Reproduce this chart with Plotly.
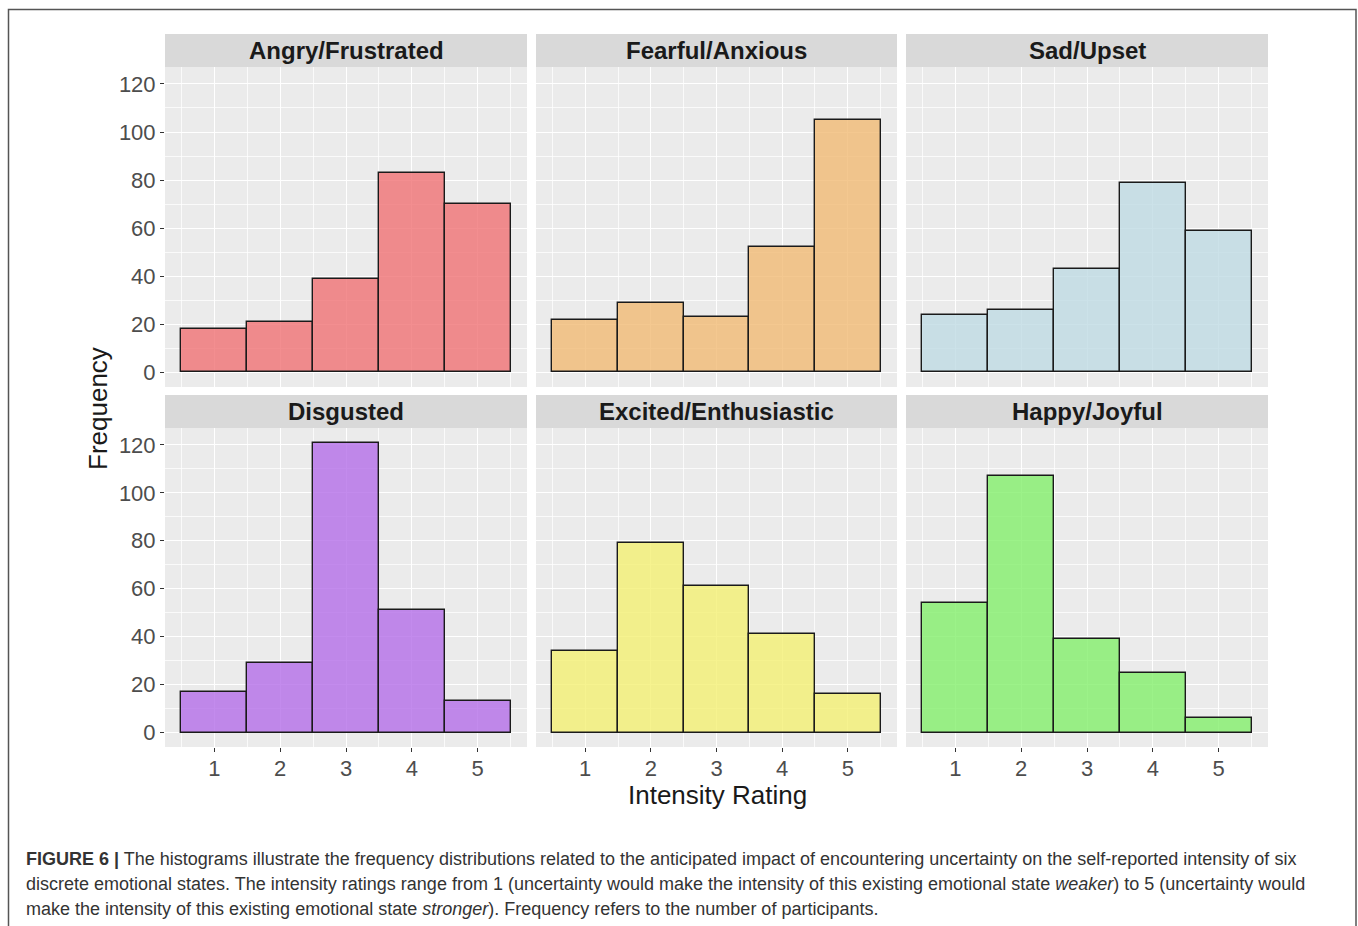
import plotly.graph_objects as go

W, H = 1358, 926

ratings = [1, 2, 3, 4, 5]
panels = ["Angry/Frustrated", "Fearful/Anxious", "Sad/Upset",
          "Disgusted", "Excited/Enthusiastic", "Happy/Joyful"]
angry = [18, 21, 39, 83, 70]
fearful = [22, 29, 23, 52, 105]
sad = [24, 26, 43, 79, 59]
disgusted = [17, 29, 121, 51, 13]
excited = [34, 79, 61, 41, 16]
happy = [54, 107, 39, 25, 6]
series = [angry, fearful, sad, disgusted, excited, happy]
fills = ["rgba(240,114,116,0.8)", "rgba(241,186,116,0.8)", "rgba(191,219,228,0.8)",
         "rgba(180,110,233,0.8)", "rgba(244,240,115,0.8)", "rgba(131,239,108,0.8)"]
y_ticks = [0, 20, 40, 60, 80, 100, 120]

# pixel layout (reference coordinates)
col_x = [(165, 527), (536, 897), (906, 1268)]
row_plot = [(67, 387), (428, 747)]
row_strip = [(34, 67), (395, 428)]

def px(x):
    return x / W

def py(y):
    return 1 - y / H

FONT = "Liberation Sans, Arial, sans-serif"
fig = go.Figure()
shapes = []
annotations = []

for i, (name, vals, fc) in enumerate(zip(panels, series, fills)):
    r, c = divmod(i, 3)
    k = i + 1
    xa = "x" if k == 1 else f"x{k}"
    ya = "y" if k == 1 else f"y{k}"
    fig.add_trace(go.Bar(
        x=ratings, y=vals, width=1, xaxis=xa, yaxis=ya,
        marker=dict(color=fc, line=dict(color="#1a1a1a", width=1.4)),
        showlegend=False, hoverinfo="x+y"))
    xk = "xaxis" if k == 1 else f"xaxis{k}"
    yk = "yaxis" if k == 1 else f"yaxis{k}"
    x0, x1 = col_x[c]
    t0, t1 = row_plot[r]
    bottom = (r == 1)
    left = (c == 0)
    fig.layout[xk] = dict(
        domain=[px(x0), px(x1)], anchor=ya, range=[0.25, 5.75],
        tickvals=ratings, showticklabels=bottom,
        ticks="outside" if bottom else "", ticklen=4, tickwidth=1, tickcolor="#333333",
        ticklabelstandoff=-2,
        tickfont=dict(family=FONT, size=22, color="#4d4d4d"),
        showgrid=True, gridcolor="white", gridwidth=1.3, zeroline=False,
        showline=False, fixedrange=True,
        minor=dict(tick0=0.5, dtick=1, showgrid=True, gridcolor="rgba(255,255,255,0.75)",
                   gridwidth=0.6, ticks=""))
    fig.layout[yk] = dict(
        domain=[py(t1), py(t0)], anchor=xa, range=[-6.05, 127.05],
        tickvals=y_ticks, showticklabels=left,
        ticks="outside" if left else "", ticklen=4, tickwidth=1, tickcolor="#333333",
        tickfont=dict(family=FONT, size=22, color="#4d4d4d"),
        showgrid=True, gridcolor="white", gridwidth=1.3, zeroline=False,
        showline=False, fixedrange=True,
        minor=dict(tick0=10, dtick=20, showgrid=True, gridcolor="rgba(255,255,255,0.75)",
                   gridwidth=0.6, ticks=""))
    s0, s1 = row_strip[r]
    shapes.append(dict(type="rect", xref="paper", yref="paper",
                       x0=px(x0), x1=px(x1), y0=py(s1), y1=py(s0),
                       fillcolor="#d9d9d9", line=dict(width=0), layer="below"))
    annotations.append(dict(text=f"<b>{name}</b>", xref="paper", yref="paper",
                            x=px((x0 + x1) / 2), y=py((s0 + s1) / 2),
                            xanchor="center", yanchor="middle", showarrow=False,
                            font=dict(family=FONT, size=24, color="#1a1a1a")))

# axis titles
annotations.append(dict(text="Frequency", xref="paper", yref="paper",
                        x=px(98), y=py(408), textangle=-90, showarrow=False,
                        xanchor="center", yanchor="middle",
                        font=dict(family=FONT, size=26, color="#1a1a1a")))
annotations.append(dict(text="Intensity Rating", xref="paper", yref="paper",
                        x=px(717), y=py(795), showarrow=False,
                        xanchor="center", yanchor="middle",
                        font=dict(family=FONT, size=26, color="#1a1a1a")))

# caption
cap_lines = [
    "<b>FIGURE 6 |</b> The histograms illustrate the frequency distributions related to the anticipated impact of encountering uncertainty on the self-reported intensity of six",
    "discrete emotional states. The intensity ratings range from 1 (uncertainty would make the intensity of this existing emotional state <i>weaker</i>) to 5 (uncertainty would",
    "make the intensity of this existing emotional state <i>stronger</i>). Frequency refers to the number of participants.",
]
for j, line in enumerate(cap_lines):
    annotations.append(dict(text=line, xref="paper", yref="paper",
                            x=px(24), y=py(859 + 25 * j), showarrow=False,
                            xanchor="left", yanchor="middle",
                            font=dict(family=FONT, size=18, color="#333333")))

# outer frame
shapes.append(dict(type="rect", xref="paper", yref="paper",
                   x0=px(8.5), x1=px(1356), y0=py(960), y1=py(9.5),
                   fillcolor="rgba(0,0,0,0)", line=dict(color="#555555", width=1.5)))

fig.update_layout(
    width=W, height=H, margin=dict(l=0, r=0, t=0, b=0),
    paper_bgcolor="white", plot_bgcolor="#ebebeb",
    shapes=shapes, annotations=annotations, bargap=0,
    font=dict(family=FONT),
)

fig.write_html(
    "out.html",
    config={"displayModeBar": False},
    post_script="document.body.style.margin='0';document.body.style.overflow='hidden';",
)
